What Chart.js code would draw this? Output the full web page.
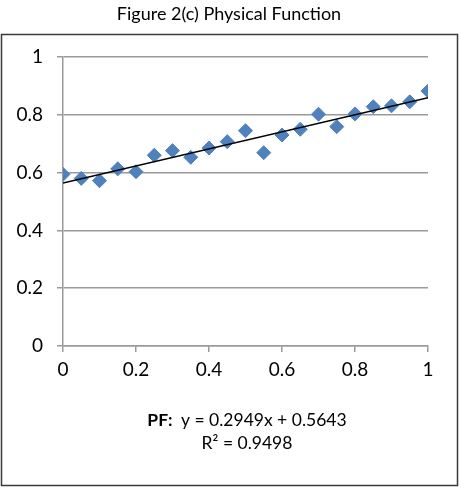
<!DOCTYPE html>
<html>
<head>
<meta charset="utf-8">
<script src="https://cdn.jsdelivr.net/npm/chart.js@4"></script>
<style>
  html, body { margin: 0; padding: 0; background: #fff; }
  #wrap { width: 461px; height: 488px; position: relative; }
</style>
</head>
<body>
<div id="wrap"><canvas id="c" width="461" height="488"></canvas></div>
<script>
const titleText = 'Figure 2(c) Physical Function';
const xValues = [0, 0.05, 0.1, 0.15, 0.2, 0.25, 0.3, 0.35, 0.4, 0.45, 0.5,
                 0.55, 0.6, 0.65, 0.7, 0.75, 0.8, 0.85, 0.9, 0.95, 1.0];
const pfValues = [0.594, 0.580, 0.572, 0.613, 0.603, 0.660, 0.676, 0.653, 0.685, 0.707, 0.745,
                  0.669, 0.730, 0.750, 0.802, 0.759, 0.803, 0.828, 0.831, 0.845, 0.882];
const trendX = [0, 1];
const trendY = [0.5643, 0.8592];
const tickValues = [0, 0.2, 0.4, 0.6, 0.8, 1];
const equationLabel = 'PF:';
const equationText = 'y = 0.2949x + 0.5643';
const r2Text = 'R\u00B2 = 0.9498';

const FONT = 'Lato, "Open Sans", sans-serif';
const fmt = v => Number(Number(v).toFixed(2)).toString();

const decor = {
  id: 'decor',
  beforeDraw(chart) {
    const ctx = chart.ctx;
    ctx.save();
    ctx.fillStyle = '#fff';
    ctx.fillRect(0, 0, chart.width, chart.height);
    ctx.strokeStyle = '#3a3a3a';
    ctx.lineWidth = 1.5;
    ctx.strokeRect(1.5, 34.5, 456, 451);
    ctx.restore();
  },
  afterDraw(chart) {
    const ctx = chart.ctx;
    ctx.save();
    ctx.fillStyle = '#000';
    ctx.textBaseline = 'middle';
    ctx.textAlign = 'center';
    ctx.font = '18px ' + FONT;
    ctx.fillText(titleText, 229, 14);
    ctx.font = 'bold 17.5px ' + FONT;
    const wL = ctx.measureText(equationLabel + '  ').width;
    ctx.font = '17.5px ' + FONT;
    const wE = ctx.measureText(equationText).width;
    const total = wL + wE;
    const cx = 247;
    const x0 = cx - total / 2;
    ctx.textAlign = 'left';
    ctx.font = 'bold 17.5px ' + FONT;
    ctx.fillText(equationLabel, x0, 420);
    ctx.font = '17.5px ' + FONT;
    ctx.fillText(equationText, x0 + wL, 420);
    ctx.textAlign = 'center';
    ctx.fillText(r2Text, cx, 443);
    ctx.restore();
  }
};

new Chart(document.getElementById('c'), {
  type: 'scatter',
  data: {
    datasets: [
      {
        type: 'line',
        label: 'Trend',
        data: trendX.map((x, i) => ({ x: x, y: trendY[i] })),
        borderColor: '#000',
        borderWidth: 1.5,
        pointRadius: 0,
        fill: false,
        order: 0
      },
      {
        label: 'PF',
        data: xValues.map((x, i) => ({ x: x, y: pfValues[i] })),
        pointStyle: 'rectRot',
        pointRadius: 7,
        backgroundColor: '#4F81BD',
        borderColor: '#4F81BD',
        borderWidth: 1,
        order: 1
      }
    ]
  },
  options: {
    responsive: false,
    animation: false,
    devicePixelRatio: 1,
    layout: { padding: { top: 57, left: 2, right: 33, bottom: 102 } },
    plugins: {
      legend: { display: false },
      tooltip: { enabled: false },
      title: { display: false }
    },
    scales: {
      x: {
        type: 'linear',
        min: 0, max: 1,
        afterBuildTicks: s => { s.ticks = tickValues.map(v => ({ value: v })); },
        afterFit: s => { s.height = 40; },
        grid: { drawOnChartArea: false, drawTicks: true, tickLength: 6, color: '#9a9a9a', lineWidth: 1.5 },
        border: { color: '#9a9a9a', width: 1.5 },
        ticks: { color: '#000', font: { family: FONT, size: 19 }, padding: 6, maxRotation: 0, callback: fmt }
      },
      y: {
        type: 'linear',
        min: 0, max: 1,
        afterBuildTicks: s => { s.ticks = tickValues.map(v => ({ value: v })); },
        afterFit: s => { s.width = 61; },
        grid: { drawOnChartArea: true, drawTicks: true, tickLength: 6, color: '#9a9a9a', lineWidth: 1.5 },
        border: { color: '#9a9a9a', width: 1.5 },
        ticks: { color: '#000', font: { family: FONT, size: 19 }, padding: 14, callback: fmt }
      }
    }
  },
  plugins: [decor]
});
</script>
</body>
</html>
